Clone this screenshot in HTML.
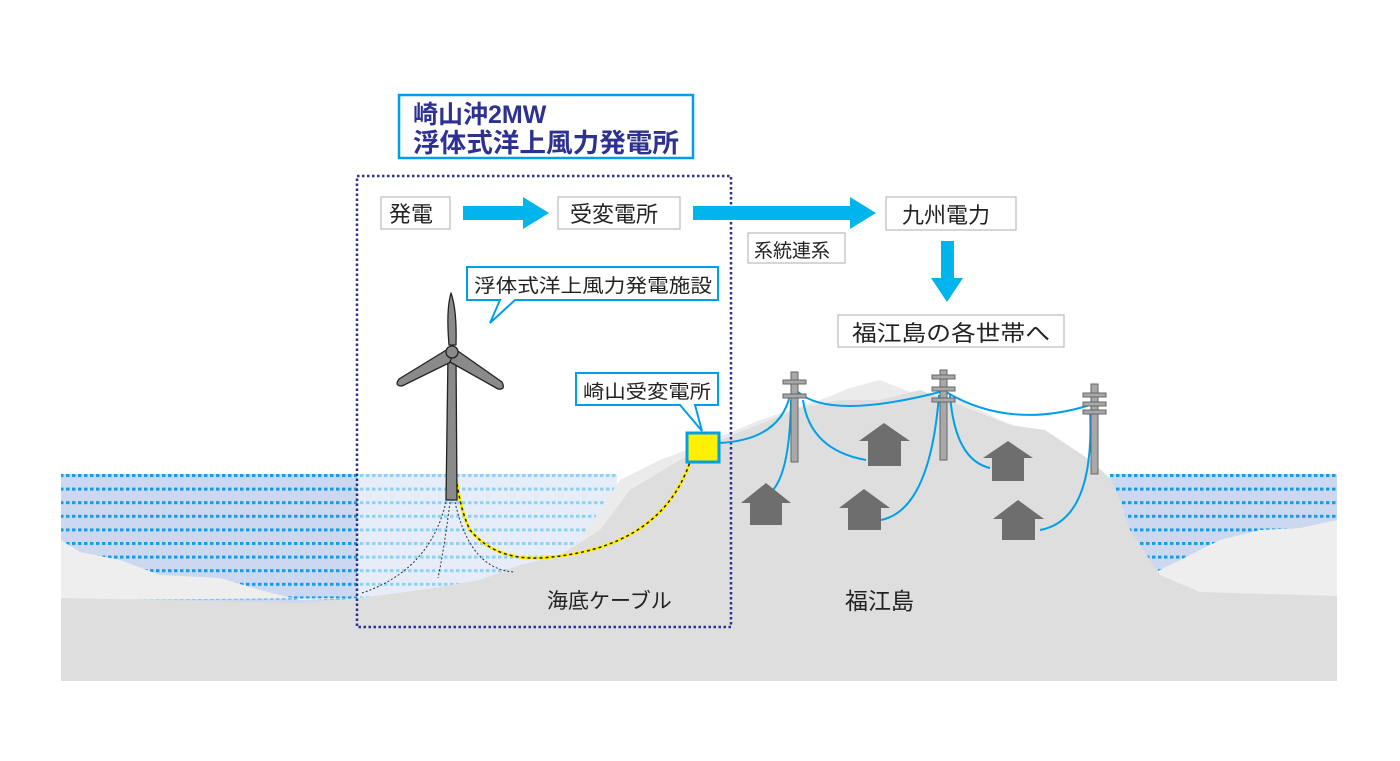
<!DOCTYPE html>
<html><head><meta charset="utf-8"><style>
html,body{margin:0;padding:0;background:#fff;}
svg{display:block}
text{font-family:"Liberation Sans","Noto Sans CJK JP",sans-serif;}
</style></head><body>
<svg width="1400" height="761" viewBox="0 0 1400 761" xmlns="http://www.w3.org/2000/svg">
<defs>
<pattern id="wd" width="6" height="13.6" patternUnits="userSpaceOnUse" y="474">
<rect x="0" y="0" width="3.5" height="3" fill="#1a9be0"/>
</pattern>
<pattern id="wl" width="6" height="13.6" patternUnits="userSpaceOnUse" y="474">
<rect x="0" y="0" width="3.5" height="3" fill="#8fd0f3"/>
</pattern>
</defs>
<rect x="61" y="474" width="300" height="130" fill="#cbd8ef"/>
<rect x="61" y="474" width="300" height="130" fill="url(#wd)"/>
<rect x="357" y="474" width="260" height="130" fill="#e6edf8"/>
<rect x="357" y="474" width="260" height="130" fill="url(#wl)"/>
<rect x="1110" y="474" width="227" height="130" fill="#cbd8ef"/>
<rect x="1110" y="474" width="227" height="130" fill="url(#wd)"/>
<path d="M61,540 L80,552 L120,560 L160,575 L220,578 L260,590 L300,600 L360,598 L61,600 Z" fill="#eeeeee"/>
<path d="M540,570 L580,540 L620,480 L660,460 L700,445 L760,420 L820,400 L850,388 L880,380 L910,392 L960,400 L1000,420 L1050,440 L1100,500 L1110,560 L540,600 Z" fill="#ebebeb"/>
<path d="M1140,580 L1180,560 L1220,540 L1260,530 L1300,528 L1337,520 L1337,600 L1140,600 Z" fill="#eeeeee"/>
<path d="M61,598 L300,603 L360,598 L420,590 L480,580 L520,565 L560,555 L600,530 L630,490 L680,460 L720,440 L770,420 L800,408 L840,400 L880,400 L920,390 L960,405 L1010,425 L1045,430 L1090,460 L1110,478 L1120,500 L1130,530 L1160,575 L1200,592 L1337,596 L1337,681 L61,681 Z" fill="#dedede"/>
<rect x="357" y="176" width="374" height="451" fill="none" stroke="#2e3192" stroke-width="2.5" stroke-dasharray="2.5,2.5"/>
<g fill="none" stroke="#333" stroke-width="1" stroke-dasharray="2,2">
<path d="M446,502 Q430,570 362,593"/>
<path d="M450,502 Q444,550 438,578"/>
<path d="M455,502 Q470,570 515,572"/>
</g>
<path d="M452,430 Q455,500 470,530 Q495,560 540,558 Q660,550 690,462" fill="none" stroke="#ffee00" stroke-width="3"/>
<path d="M452,430 Q455,500 470,530 Q495,560 540,558 Q660,550 690,462" fill="none" stroke="#222" stroke-width="1.5" stroke-dasharray="3,3"/>
<path d="M448,355 L456,355 L457,500 L446,500 Z" fill="#8a8a8a" stroke="#222" stroke-width="1.3"/>
<g fill="#8a8a8a" stroke="#222" stroke-width="1.3" stroke-linejoin="round">
<path d="M449,345 Q446,310 451,293 Q457,310 456,345 Z"/>
<path d="M448,349 L399,379 Q394,386 402,386 L453,361 Z"/>
<path d="M455,349 L502,382 Q506,390 498,389 L450,362 Z"/>
<circle cx="452" cy="352" r="6"/>
</g>
<rect x="687" y="433" width="32" height="29" fill="#fff000" stroke="#00a0e9" stroke-width="3"/>
<g fill="none" stroke="#00a0e9" stroke-width="2">
<path d="M719,443 Q780,440 790,395"/>
<path d="M798,392 Q830,420 940,392"/>
<path d="M946,392 Q1010,430 1090,405"/>
<path d="M791,400 Q790,470 773,490"/>
<path d="M803,400 Q810,450 866,460"/>
<path d="M939,395 Q930,510 881,520"/>
<path d="M950,395 Q955,460 990,468"/>
<path d="M1090,410 Q1095,520 1040,530"/>
</g>
<g fill="#a8a8a8" stroke="#666" stroke-width="1">
<rect x="791" y="372" width="7" height="90"/>
<rect x="783" y="380" width="23" height="4"/><rect x="783" y="394" width="23" height="4"/>
<rect x="940" y="370" width="7" height="90"/>
<rect x="932" y="375" width="23" height="4"/><rect x="932" y="387" width="23" height="4"/><rect x="932" y="398" width="23" height="4"/>
<rect x="1091" y="384" width="7" height="90"/>
<rect x="1083" y="393" width="23" height="4"/><rect x="1083" y="402" width="23" height="4"/><rect x="1083" y="410" width="23" height="4"/>
</g>
<g fill="#6e6e6e">
<path d="M741,503 L766,483 L791,503 L782,503 L782,525 L750,525 L750,503 Z"/>
<path d="M859,441 L884,423 L910,441 L901,441 L901,466 L868,466 L868,441 Z"/>
<path d="M839,508 L864,489 L890,508 L881,508 L881,530 L848,530 L848,508 Z"/>
<path d="M983,458 L1008,441 L1033,458 L1024,458 L1024,481 L992,481 L992,458 Z"/>
<path d="M993,519 L1018,500 L1044,519 L1035,519 L1035,540 L1002,540 L1002,519 Z"/>
</g>
<rect x="399" y="95" width="294" height="63" fill="#fff" stroke="#00a0e9" stroke-width="2.5"/>
<text x="413" y="123" font-size="25" font-weight="bold" fill="#2e3192">崎山沖2MW</text>
<text x="413" y="152" font-size="26" font-weight="bold" fill="#2e3192" textLength="266" lengthAdjust="spacingAndGlyphs">浮体式洋上風力発電所</text>
<g fill="#fff" stroke="#bbb" stroke-width="1.2">
<rect x="381" y="197" width="69" height="32"/>
<rect x="558" y="197" width="122" height="32"/>
<rect x="886" y="197" width="130" height="33"/>
<rect x="748" y="233" width="97" height="30"/>
<rect x="838" y="315" width="226" height="32"/>
</g>
<g font-size="22" fill="#222">
<text x="389" y="222">発電</text>
<text x="570" y="222">受変電所</text>
<text x="902" y="223">九州電力</text>
<text x="852" y="341" textLength="198" lengthAdjust="spacingAndGlyphs">福江島の各世帯へ</text>
</g>
<text x="754" y="257" font-size="19" fill="#222">系統連系</text>
<g fill="#00b4ec">
<path d="M463,206 L523,206 L523,197 L549,213 L523,229 L523,220 L463,220 Z"/>
<path d="M693,206 L850,206 L850,197 L876,213 L850,229 L850,220 L693,220 Z"/>
<path d="M941,241 L954,241 L954,278 L963,278 L947,302 L931,278 L941,278 Z"/>
</g>
<path d="M467,267 L718,267 L718,300 L515,300 L490,323 L500,300 L467,300 Z" fill="#fff" stroke="#00a0e9" stroke-width="2"/>
<text x="474" y="292" font-size="19" fill="#222" textLength="238" lengthAdjust="spacingAndGlyphs">浮体式洋上風力発電施設</text>
<path d="M576,373 L718,373 L718,405 L695,405 L702,431 L680,405 L576,405 Z" fill="#fff" stroke="#00a0e9" stroke-width="2"/>
<text x="583" y="398" font-size="19" fill="#222" textLength="128" lengthAdjust="spacingAndGlyphs">崎山受変電所</text>
<text x="547" y="608" font-size="21" fill="#222">海底ケーブル</text>
<text x="845" y="609" font-size="23" fill="#222">福江島</text>
</svg>
</body></html>
